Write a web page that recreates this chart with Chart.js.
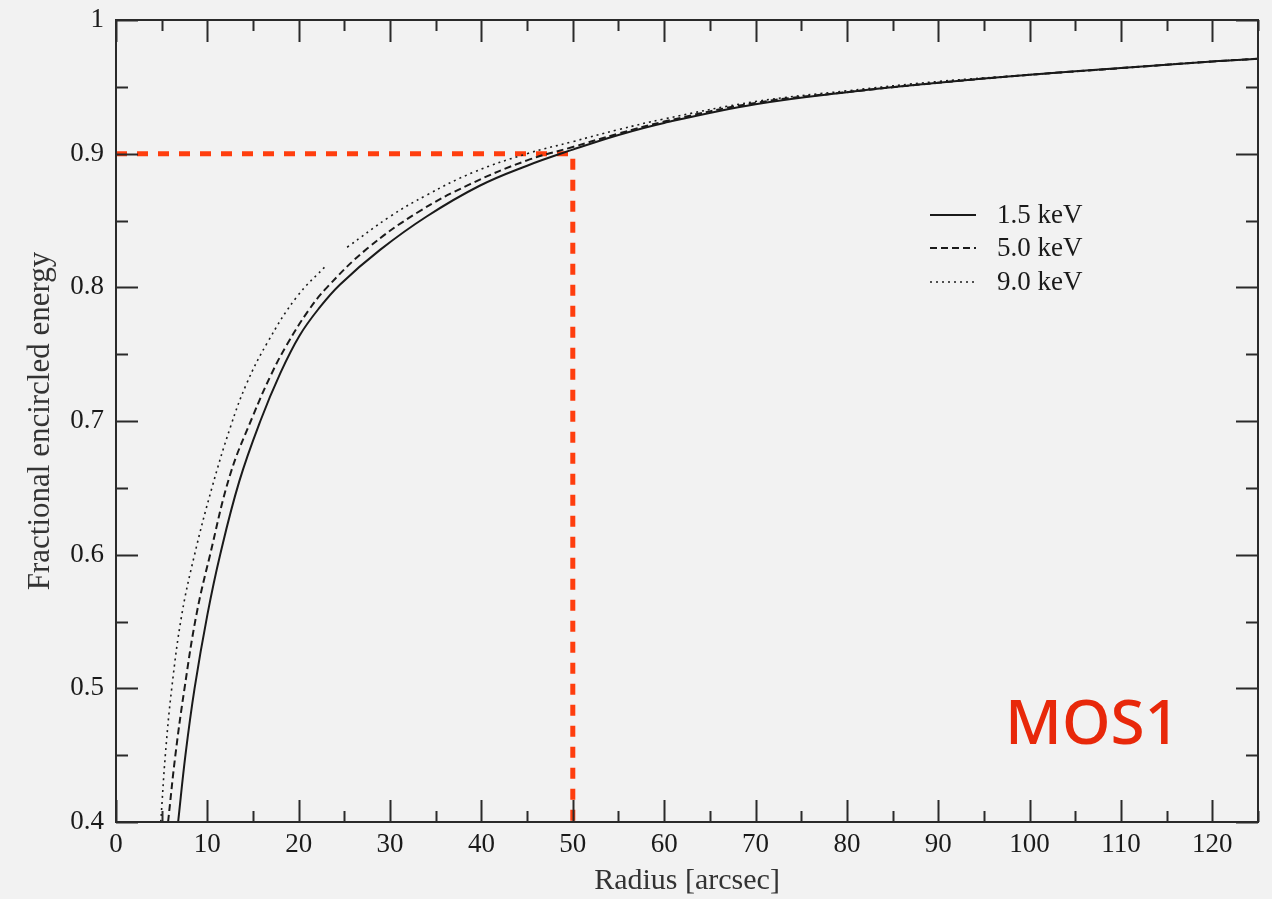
<!DOCTYPE html>
<html>
<head>
<meta charset="utf-8">
<script src="https://cdn.jsdelivr.net/npm/chart.js@4.4.1/dist/chart.umd.min.js"></script>
<style>
  html, body { margin: 0; padding: 0; background: #f2f2f2; }
  #wrap { width: 1272px; height: 899px; position: relative; }
</style>
</head>
<body>
<div id="wrap"><canvas id="c" width="1272" height="899"></canvas></div>
<script>
// ---- data ----
const seriesNames = ['1.5 keV', '5.0 keV', '9.0 keV'];

const radius15 = [6.8, 7.6, 8.6, 10.0, 11.4, 13.5, 15.8, 18.0, 20.1, 22.3, 24.5, 28.9, 34, 39.8, 45, 50, 55, 60, 70, 80, 90, 100, 110, 120, 125];
const energy15 = [0.40, 0.45, 0.50, 0.555, 0.60, 0.655, 0.70, 0.736, 0.764, 0.785, 0.802, 0.828, 0.853, 0.876, 0.891, 0.903, 0.914, 0.923, 0.937, 0.946, 0.953, 0.959, 0.964, 0.969, 0.971];

const radius50 = [5.7, 6.5, 7.5, 8.8, 10.3, 12.5, 15.0, 17.0, 18.7, 21.0, 23.1, 27.5, 33, 38.7, 45, 50, 55, 60, 70, 80, 90, 100, 110, 120, 125];
const energy50 = [0.40, 0.45, 0.50, 0.555, 0.60, 0.66, 0.704, 0.735, 0.757, 0.782, 0.800, 0.829, 0.856, 0.877, 0.895, 0.905, 0.915, 0.924, 0.938, 0.946, 0.953, 0.959, 0.964, 0.969, 0.971];

const radius90 = [4.9, 5.4, 6.1, 7.2, 8.6, 10.5, 12.5, 14.3, 16.6, 19.8, 23.1, 24.2, 25.3, 30, 34, 39.1, 45, 50, 55, 60, 70, 80, 90, 100, 110, 120, 125];
const energy90 = [0.40, 0.45, 0.50, 0.555, 0.60, 0.65, 0.695, 0.728, 0.759, 0.793, 0.817, null, 0.830, 0.853, 0.869, 0.886, 0.900, 0.909, 0.918, 0.926, 0.939, 0.947, 0.954, 0.959, 0.964, 0.969, 0.971];

const markerRadius = 50;      // arcsec
const markerFraction = 0.9;   // fractional energy

const xMajorTicks = [0, 10, 20, 30, 40, 50, 60, 70, 80, 90, 100, 110, 120];
const xMinorTicks = [5, 15, 25, 35, 45, 55, 65, 75, 85, 95, 105, 115, 125];
const yMajorTicks = [0.4, 0.5, 0.6, 0.7, 0.8, 0.9, 1.0];
const yMinorTicks = [0.45, 0.55, 0.65, 0.75, 0.85, 0.95];
const xRange = [0, 125];
const yRange = [0.4, 1.0];

const xTitle = 'Radius [arcsec]';
const yTitle = 'Fractional encircled energy';
const tag = 'MOS1';

// ---- build ----
const pts = (xs, ys) => xs.map((x, i) => ({ x: x, y: ys[i] }));
const serif = "'Liberation Serif', 'Times New Roman', serif";
const ink = '#1a1a1a';
const red = 'rgb(255,62,14)';

const styles = [
  { dash: [], width: 2 },
  { dash: [7, 4], width: 2 },
  { dash: [2, 4], width: 1.6 }
];

const datasets = [
  { label: seriesNames[0], data: pts(radius15, energy15) },
  { label: seriesNames[1], data: pts(radius50, energy50) },
  { label: seriesNames[2], data: pts(radius90, energy90) }
].map((d, i) => Object.assign(d, {
  borderColor: ink,
  borderWidth: styles[i].width,
  borderDash: styles[i].dash,
  pointRadius: 0,
  fill: false,
  tension: 0.4,
  spanGaps: false
}));

datasets.push({
  label: 'marker',
  data: [{ x: xRange[0], y: markerFraction }, { x: markerRadius, y: markerFraction }, { x: markerRadius, y: yRange[0] }],
  borderColor: red,
  borderWidth: 5,
  borderDash: [11, 10],
  pointRadius: 0,
  tension: 0,
  fill: false
});

const framePlugin = {
  id: 'frame',
  beforeDraw(chart) {
    const ctx = chart.ctx;
    ctx.save();
    ctx.fillStyle = '#f2f2f2';
    ctx.fillRect(0, 0, chart.width, chart.height);
    ctx.restore();
  },
  afterDraw(chart) {
    const ctx = chart.ctx;
    const a = chart.chartArea;
    const xs = chart.scales.x, ys = chart.scales.y;
    ctx.save();
    ctx.strokeStyle = '#2a2a2a';
    ctx.lineWidth = 2;
    ctx.strokeRect(a.left, a.top, a.right - a.left, a.bottom - a.top);
    ctx.lineWidth = 2;
    const tick = (x1, y1, x2, y2) => { ctx.beginPath(); ctx.moveTo(x1, y1); ctx.lineTo(x2, y2); ctx.stroke(); };
    xMajorTicks.forEach(v => { const p = Math.round(xs.getPixelForValue(v)) + 0.5; tick(p, a.bottom, p, a.bottom - 22); tick(p, a.top, p, a.top + 22); });
    xMinorTicks.forEach(v => { const p = Math.round(xs.getPixelForValue(v)) + 0.5; tick(p, a.bottom, p, a.bottom - 11); tick(p, a.top, p, a.top + 11); });
    yMajorTicks.forEach(v => { const p = Math.round(ys.getPixelForValue(v)) + 0.5; tick(a.left, p, a.left + 22, p); tick(a.right, p, a.right - 22, p); });
    yMinorTicks.forEach(v => { const p = Math.round(ys.getPixelForValue(v)) + 0.5; tick(a.left, p, a.left + 12, p); tick(a.right, p, a.right - 12, p); });

    // legend
    ctx.font = '27px ' + serif;
    ctx.fillStyle = ink;
    ctx.textBaseline = 'middle';
    ctx.textAlign = 'left';
    const rows = [215, 248, 282];
    for (let i = 0; i < 3; i++) {
      const ds = chart.data.datasets[i];
      ctx.strokeStyle = ink;
      ctx.lineWidth = ds.borderWidth;
      ctx.setLineDash(ds.borderDash);
      ctx.beginPath(); ctx.moveTo(930, rows[i]); ctx.lineTo(976, rows[i]); ctx.stroke();
      ctx.setLineDash([]);
      ctx.fillText(ds.label, 997, rows[i] + 1);
    }

    // tag
    let size = 70;
    ctx.font = "500 " + size + "px 'Noto Sans', 'DejaVu Sans', sans-serif";
    const w = ctx.measureText(tag).width;
    size = Math.round(size * 176 / w);
    ctx.font = "500 " + size + "px 'Noto Sans', 'DejaVu Sans', sans-serif";
    ctx.fillStyle = 'rgb(232,40,10)';
    ctx.textBaseline = 'alphabetic';
    ctx.fillText(tag, 1005, 744);
    ctx.restore();
  }
};

new Chart(document.getElementById('c'), {
  type: 'line',
  data: { datasets: datasets },
  options: {
    responsive: false,
    animation: false,
    layout: { padding: { left: 0, right: 14, top: 20, bottom: 0 } },
    plugins: { legend: { display: false }, tooltip: { enabled: false } },
    scales: {
      x: {
        type: 'linear', min: xRange[0], max: xRange[1],
        grid: { display: false, drawTicks: false },
        border: { display: false },
        afterBuildTicks: s => { s.ticks = xMajorTicks.map(v => ({ value: v })); },
        afterFit: s => { s.height = 77; s.paddingLeft = 0; s.paddingRight = 0; },
        ticks: { font: { family: serif, size: 27 }, color: ink, padding: 7, maxRotation: 0, autoSkip: false },
        title: { display: true, text: xTitle, font: { family: serif, size: 30 }, color: '#333', padding: { top: 0, bottom: 0 } }
      },
      y: {
        type: 'linear', min: yRange[0], max: yRange[1],
        grid: { display: false, drawTicks: false },
        border: { display: false },
        afterBuildTicks: s => { s.ticks = yMajorTicks.map(v => ({ value: v })); },
        afterFit: s => { s.width = 116; s.paddingTop = 0; s.paddingBottom = 0; },
        ticks: { font: { family: serif, size: 27 }, color: ink, padding: 12,
                 callback: v => (Math.abs(v - 1) < 1e-9 ? '1' : v.toFixed(1)) },
        title: { display: true, text: yTitle, font: { family: serif, size: 31 }, color: '#333', padding: { top: 22, bottom: 0 } }
      }
    }
  },
  plugins: [framePlugin]
});
</script>
</body>
</html>
